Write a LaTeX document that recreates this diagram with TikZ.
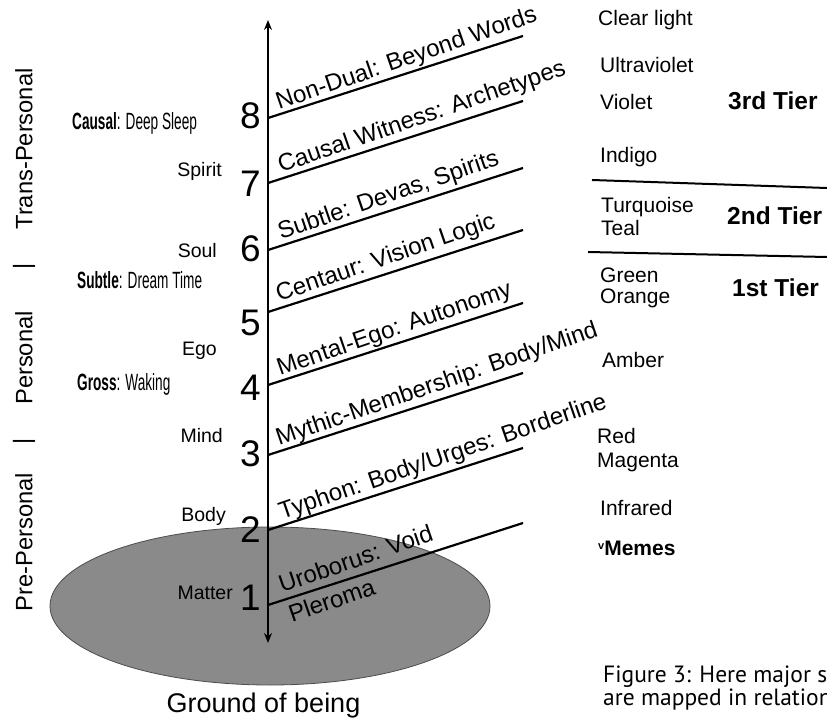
\documentclass[tikz,border=0pt]{standalone}
\usepackage{fontspec}
\setmainfont{Liberation Sans}
\newfontfamily\narrowfont[FakeStretch=0.58]{Liberation Sans}
\newfontfamily\capfont{PT Sans}
\usetikzlibrary{arrows.meta,shapes.geometric}
\definecolor{ellgray}{RGB}{138,138,138}
\begin{document}
\begin{tikzpicture}[x=1pt,y=-1pt,
 axisline/.style={line width=2.6pt, arrows={Stealth[length=10pt,width=8pt]-Stealth[length=10pt,width=8pt]}},
 rung/.style={line width=2.2pt},
 rungtext/.style={anchor=base west, rotate=19, inner sep=0pt, font=\fontsize{24}{24}\selectfont},
 digit/.style={anchor=base east, inner sep=0pt, font=\fontsize{37}{37}\selectfont},
 leftlab/.style={anchor=base east, inner sep=0pt, font=\fontsize{19.5}{20}\selectfont},
 statelab/.style={anchor=base west, inner sep=0pt, font=\narrowfont\fontsize{23.5}{23.5}\selectfont},
 colourlab/.style={anchor=base west, inner sep=0pt, font=\fontsize{21}{21}\selectfont},
 tierlab/.style={anchor=base west, inner sep=0pt, font=\bfseries\fontsize{24.5}{24.5}\selectfont},
 sidelab/.style={rotate=90, inner sep=0pt, font=\fontsize{23.7}{24}\selectfont},
 seprule/.style={line width=2pt},
 captext/.style={anchor=base west, inner sep=0pt, font=\capfont\fontsize{23.5}{23.5}\selectfont}
]
\path[use as bounding box] (0,0) rectangle (827,719);
\clip (0,0) rectangle (827,719);

% ground ellipse
\node[draw=black!70, line width=0.8pt, fill=ellgray, ellipse, minimum width=440pt, minimum height=158pt, inner sep=0pt] (ground) at (270,606) {};

% axis
\coordinate (top) at (268,20);
\coordinate (bot) at (268,643);
\draw[axisline] (bot) -- (top);

% rungs
\foreach \n/\y in {8/118,7/183,6/250,5/312,4/385,3/455,2/530,1/605}{
  \coordinate (s\n) at (268,\y);
  \coordinate (e\n) at (523,\y-82);
  \draw[rung] (s\n) -- (e\n);
}

% rung texts
\node[rungtext] (t8) at ([shift={(11,-8)}]s8) {Non-Dual: Beyond Words};
\node[rungtext] (t7) at ([shift={(13,-10)}]s7) {Causal Witness: Archetypes};
\node[rungtext] (t6) at ([shift={(13,-10)}]s6) {Subtle: Devas, Spirits};
\node[rungtext] (t5) at ([shift={(11,-10)}]s5) {Centaur: Vision Logic};
\node[rungtext] (t4) at ([shift={(12,-9)}]s4) {Mental-Ego: Autonomy};
\node[rungtext] (t3) at ([shift={(11,-9)}]s3) {Mythic-Membership: Body/Mind};
\node[rungtext] (t2) at ([shift={(14,-10)}]s2) {Typhon: Body/Urges: Borderline};
\node[rungtext] (t1) at ([shift={(14,-12)}]s1) {Uroborus: Void};
\node[rungtext] (t0) at ([shift={(24,18)}]s1) {Pleroma};

% digits
\node[digit] (d8) at (261,129) {8};
\node[digit] (d7) at (261,197) {7};
\node[digit] (d6) at (261,262) {6};
\node[digit] (d5) at (261,335) {5};
\node[digit] (d4) at (261,400) {4};
\node[digit] (d3) at (261,466) {3};
\node[digit] (d2) at (261,542) {2};
\node[digit] (d1) at (261,610) {1};

% left labels
\node[leftlab] (spirit) at (222,177) {Spirit};
\node[leftlab] (soul) at (217,258) {Soul};
\node[leftlab] (ego) at (217,355) {Ego};
\node[leftlab] (mind) at (223,442) {Mind};
\node[leftlab] (body) at (226,521) {Body};
\node[leftlab] (matter) at (233,599) {Matter};

% states
\node[statelab] (causal) at (72,130) {{\bfseries Causal}: Deep Sleep};
\node[statelab] (subtle) at (77,289) {{\bfseries Subtle}: Dream Time};
\node[statelab] (gross) at (77,390) {{\bfseries Gross}: Waking};

% side labels
\node[sidelab] (trans) at (24,149) {Trans-Personal};
\node[sidelab] (bar1) at (24,266) {|};
\node[sidelab] (pers) at (24,358) {Personal};
\node[sidelab] (bar2) at (24,441) {|};
\node[sidelab] (pre) at (24,542) {Pre-Personal};

% colours
\node[colourlab] (clear) at (598,26) {Clear light};
\node[colourlab] (ultra) at (600,73) {Ultraviolet};
\node[colourlab] (violet) at (600,110) {Violet};
\node[colourlab] (indigo) at (600,163) {Indigo};
\node[colourlab] (turq) at (601,213) {Turquoise};
\node[colourlab] (teal) at (601,236) {Teal};
\node[colourlab] (green) at (600,283) {Green};
\node[colourlab] (orange) at (600,304) {Orange};
\node[colourlab] (amber) at (602,367) {Amber};
\node[colourlab] (red) at (597,443) {Red};
\node[colourlab] (magenta) at (597,467) {Magenta};
\node[colourlab] (infra) at (600,515) {Infrared};
\node[colourlab, font=\bfseries\fontsize{21}{21}\selectfont] (memes) at (598,555) {\raisebox{6pt}{\fontsize{11}{11}\selectfont v}Memes};

% tiers
\node[tierlab] (tier3) at (728,110) {3rd Tier};
\node[tierlab] (tier2) at (727,225) {2nd Tier};
\node[tierlab] (tier1) at (732,297) {1st Tier};

% separators
\coordinate (sa) at (592,180);
\coordinate (sb) at (827,188);
\coordinate (sc) at (588,252);
\coordinate (sd) at (827,257);
\draw[seprule] (sa) -- (sb);
\draw[seprule] (sc) -- (sd);

% ground label
\node[anchor=base, inner sep=0pt, font=\fontsize{27}{27}\selectfont] (groundlab) at (263.5,712) {Ground of being};

% caption (cut by the frame)
\node[captext] (cap1) at (603,682) {Figure 3: Here major s};
\node[captext] (cap2) at (603,705) {are mapped in relation};
\end{tikzpicture}
\end{document}
